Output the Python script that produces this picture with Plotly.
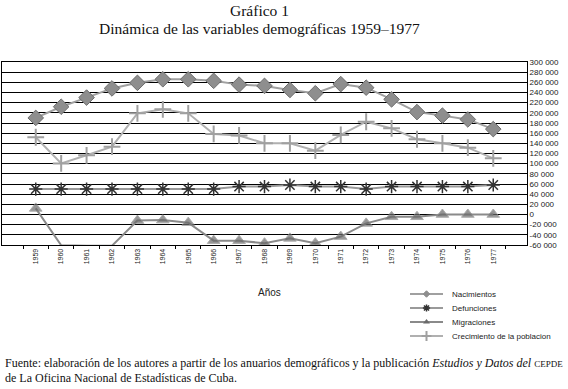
import plotly.graph_objects as go

years = [str(y) for y in range(1959, 1978)]
nacimientos = [190000, 212000, 230000, 248000, 259000, 266000, 266000, 263000, 255500, 253000,
               245000, 238500, 256500, 249500, 226500, 201500, 194500, 187000, 168000]
defunciones = [50000, 50000, 50000, 50000, 50000, 50000, 50000, 50000, 55000, 55000,
               58000, 55000, 55000, 50000, 55000, 55000, 55000, 55000, 58000]
migraciones = [12000, -60500, -61500, -61500, -12000, -11000, -16000, -51500, -51500, -56500,
               -47000, -56500, -43500, -17500, -4500, -4500, 0, 0, 0]
crecimiento = [152000, 100500, 116500, 133500, 199000, 207000, 199000, 158500, 155500, 140000,
               140000, 125500, 156500, 182500, 169500, 148000, 140000, 131500, 110500]
series_names = ["Nacimientos", "Defunciones", "Migraciones", "Crecimiento de la poblacion"]

ytickvals = list(range(-60000, 300001, 20000))
yticktext = ["-60 000", "-40 000", "-20 000", "0", "20 000", "40 000", "60 000", "80 000",
             "100 000", "120 000", "140 000", "160 000", "180 000", "200 000", "220 000",
             "240 000", "260 000", "280 000", "300 000"]

W, H = 568, 389
L, R, T, B = 2, 527, 62, 245


def px(x):
    return x / W


def py(y):
    return 1 - y / H


styles = [
    dict(line=dict(color="#a0a0a0", width=2),
         marker=dict(symbol="diamond", size=12, color="#8e8e8e", line=dict(color="#6e6e6e", width=1))),
    dict(line=dict(color="#9a9a9a", width=2),
         marker=dict(symbol="asterisk-open", size=11, color="#333333", line=dict(color="#333333", width=1.5))),
    dict(line=dict(color="#8a8a8a", width=2),
         marker=dict(symbol="triangle-up", size=11, color="#6a6a6a")),
    dict(line=dict(color="#b0b0b0", width=2),
         marker=dict(symbol="cross-thin-open", size=12, color="#a0a0a0", line=dict(color="#a0a0a0", width=2))),
]
legend_styles = [
    dict(symbol="diamond", size=5, color="#8e8e8e", line=dict(color="#8e8e8e", width=1)),
    dict(symbol="asterisk-open", size=6, color="#333333", line=dict(color="#333333", width=1.5)),
    dict(symbol="triangle-up", size=6, color="#6a6a6a"),
    dict(symbol="cross-thin-open", size=7, color="#a0a0a0", line=dict(color="#a0a0a0", width=2)),
]

fig = go.Figure()
data = [nacimientos, defunciones, migraciones, crecimiento]
for i, (name, vals) in enumerate(zip(series_names, data)):
    st = styles[i]
    marker = dict(st["marker"])
    if name == "Migraciones":
        marker["size"] = [marker["size"] if v >= -60000 else 0 for v in vals]
    fig.add_trace(go.Scatter(x=years, y=vals, name=name, mode="lines+markers",
                             line=st["line"], marker=marker, showlegend=False))

# manual legend drawn on a full-figure pixel axis
leg_x0, leg_x1, leg_text_x = 410, 443, 450
leg_rows = [294, 308, 322, 336]
annotations = []
for i, name in enumerate(series_names):
    yy = leg_rows[i]
    fig.add_trace(go.Scatter(x=[leg_x0, leg_x1], y=[yy, yy], mode="lines", xaxis="x2", yaxis="y2",
                             line=styles[i]["line"], showlegend=False, hoverinfo="skip"))
    fig.add_trace(go.Scatter(x=[(leg_x0 + leg_x1) / 2], y=[yy], mode="markers", xaxis="x2", yaxis="y2",
                             marker=legend_styles[i], showlegend=False, hoverinfo="skip"))
    annotations.append(dict(text=name, x=px(leg_text_x), y=py(yy), xref="paper", yref="paper",
                            xanchor="left", yanchor="middle", showarrow=False,
                            font=dict(size=8, color="#222222")))

serif = "Liberation Serif, serif"
annotations += [
    dict(text="Gráfico 1", x=px(259), y=py(11), xref="paper", yref="paper", showarrow=False,
         xanchor="center", yanchor="middle", font=dict(family=serif, size=15.5, color="#111111")),
    dict(text="Dinámica de las variables demográficas 1959–1977", x=px(259), y=py(29),
         xref="paper", yref="paper", showarrow=False, xanchor="center", yanchor="middle",
         font=dict(family=serif, size=15.5, color="#111111")),
    dict(text="Años", x=px(269), y=py(292), xref="paper", yref="paper", showarrow=False,
         xanchor="center", yanchor="middle", font=dict(size=10, color="#222222")),
    dict(text="Fuente: elaboración de los autores a partir de los anuarios demográficos y la publicación "
              "<i>Estudios y Datos del</i> <span style='font-size:9px'>CEPDE</span>",
         x=px(3), y=py(363), xref="paper", yref="paper", xanchor="left", yanchor="middle",
         showarrow=False, font=dict(family=serif, size=12, color="#111111")),
    dict(text="de La Oficina Nacional de Estadísticas de Cuba.",
         x=px(3), y=py(378), xref="paper", yref="paper", xanchor="left", yanchor="middle",
         showarrow=False, font=dict(family=serif, size=12, color="#111111")),
]

fig.update_layout(
    width=W, height=H,
    margin=dict(l=0, r=0, t=0, b=0),
    paper_bgcolor="white", plot_bgcolor="rgba(0,0,0,0)",
    font=dict(family="Liberation Sans, Arial, sans-serif", color="#222222", size=8),
    showlegend=False,
    xaxis=dict(type="category", domain=[L / W, R / W], anchor="y",
               showline=True, linecolor="#000000", linewidth=1, mirror=True,
               ticks="outside", ticklen=3, tickcolor="#000000", tickson="boundaries",
               tickangle=-90, tickfont=dict(size=7), showgrid=False, zeroline=False,
               automargin=False),
    yaxis=dict(side="right", domain=[1 - B / H, 1 - T / H], anchor="x",
               range=[-60000, 300000], tickvals=ytickvals, ticktext=yticktext,
               showgrid=True, gridcolor="#000000", gridwidth=1, showline=True, linecolor="#000000",
               linewidth=1, mirror=True, ticks="outside", ticklen=0, ticklabelstandoff=0,
               tickfont=dict(size=8), zeroline=False, automargin=False),
    xaxis2=dict(domain=[0, 1], range=[0, W], anchor="y2", visible=False, fixedrange=True),
    yaxis2=dict(domain=[0, 1], range=[H, 0], anchor="x2", visible=False, fixedrange=True),
    annotations=annotations,
)

fig.write_html("out.html", config={"displayModeBar": False},
               post_script="document.body.style.margin='0';document.body.style.padding='0';")
